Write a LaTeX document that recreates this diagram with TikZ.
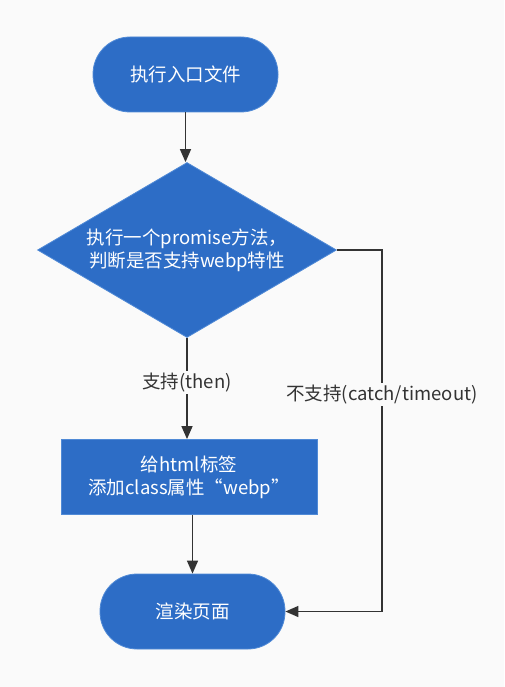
\documentclass[tikz,border=0pt]{standalone}
\usepackage{fontspec}
\setmainfont{Noto Sans CJK SC}
\usetikzlibrary{shapes.geometric,arrows.meta}
\definecolor{bgc}{RGB}{250,250,250}
\definecolor{boxc}{RGB}{45,109,198}
\definecolor{boxedge}{RGB}{80,138,214}
\definecolor{linec}{RGB}{51,51,51}
\tikzset{
  base/.style={fill=boxc,draw=boxedge,line width=0.8pt,text=white,font=\fontsize{18.5}{23}\selectfont,align=center,inner sep=0pt},
  term/.style={base,rectangle,rounded corners=37pt,minimum width=185pt,minimum height=75pt},
  proc/.style={base,rectangle,minimum width=256pt,minimum height=75pt},
  decide/.style={base,diamond,aspect=1.71,minimum width=299pt,minimum height=175pt},
  conn/.style={draw=linec,line width=1.4pt,-{Triangle[length=13pt,width=11pt]}},
  lbl/.style={fill=bgc,text=linec,font=\fontsize{18.5}{22}\selectfont,inner sep=2pt}
}
\begin{document}
\begin{tikzpicture}[x=1pt,y=-1pt]
\fill[bgc] (0,0) rectangle (504,687);
\useasboundingbox (0,0) rectangle (504,687);
\node[term] (start) at (185.5,74.5) {执行入口文件};
\node[decide] (dec) at (187,250) {执行一个promise方法，\\判断是否支持webp特性};
\node[proc] (proc) at (189,477) {给html标签\\添加class属性“webp”};
\node[term] (end) at (192.5,611.5) {渲染页面};
\coordinate (c1) at (382,250);
\coordinate (c2) at (382,611.5);
\draw[conn] (start.south) -- (start.south |- dec.north);
\draw[conn] (dec.south) -- node[lbl,pos=0.44] (l1) {支持(then)} (dec.south |- proc.north);
\draw[conn] (proc.south -| end.north) -- (end.north);
\draw[conn] (dec.east) -- (c1) -- node[lbl,pos=0.4] (l2) {不支持(catch/timeout)} (c2) -- (end.east);
\end{tikzpicture}
\end{document}
